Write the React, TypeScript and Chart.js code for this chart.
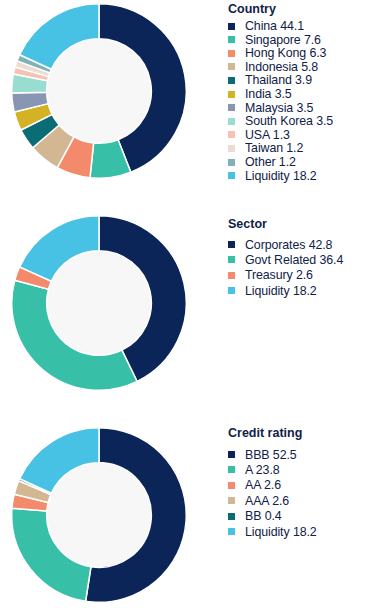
import React, { useEffect, useRef } from "react";
import { Chart, registerables } from "chart.js";

Chart.register(...registerables);

const countryLabels = ["China", "Singapore", "Hong Kong", "Indonesia", "Thailand", "India", "Malaysia", "South Korea", "USA", "Taiwan", "Other", "Liquidity"];
const countryValues = [44.1, 7.6, 6.3, 5.8, 3.9, 3.5, 3.5, 3.5, 1.3, 1.2, 1.2, 18.2];
const countryColors = ["#0b2559", "#38bfa7", "#f28a6b", "#d3b792", "#0b6c76", "#d3b223", "#8896b3", "#98ddd0", "#f7c1b6", "#eedcd0", "#7fb1b6", "#47c2e4"];

const sectorLabels = ["Corporates", "Govt Related", "Treasury", "Liquidity"];
const sectorValues = [42.8, 36.4, 2.6, 18.2];
const sectorColors = ["#0b2559", "#38bfa7", "#f28a6b", "#47c2e4"];

const ratingLabels = ["BBB", "A", "AA", "AAA", "BB", "Liquidity"];
const ratingValues = [52.5, 23.8, 2.6, 2.6, 0.4, 18.2];
const ratingColors = ["#0b2559", "#38bfa7", "#f28a6b", "#d3b792", "#0b6c76", "#47c2e4"];

const innerFill = {
  id: "innerFill",
  beforeDatasetsDraw(chart: any) {
    const meta = chart.getDatasetMeta(0);
    const arc: any = meta.data[0];
    if (!arc) return;
    const ctx = chart.ctx;
    ctx.save();
    ctx.beginPath();
    ctx.arc(arc.x, arc.y, arc.innerRadius, 0, Math.PI * 2);
    ctx.fillStyle = "#f7f7f7";
    ctx.fill();
    ctx.restore();
  },
};

function Donut({ labels, values, colors, left, top }: { labels: string[]; values: number[]; colors: string[]; left: number; top: number }) {
  const ref = useRef<HTMLCanvasElement>(null);
  useEffect(() => {
    if (!ref.current) return;
    const chart = new Chart(ref.current, {
      type: "doughnut",
      data: {
        labels,
        datasets: [
          {
            data: values,
            backgroundColor: colors,
            borderColor: "#ffffff",
            borderWidth: 1.5,
          },
        ],
      },
      options: {
        responsive: false,
        animation: false,
        cutout: "60%",
        layout: { padding: 0 },
        plugins: { legend: { display: false }, tooltip: { enabled: false } },
      },
      plugins: [innerFill],
    });
    return () => chart.destroy();
  }, []);
  return <canvas ref={ref} width={176} height={176} style={{ position: "absolute", left, top, width: 176, height: 176 }} />;
}

function Legend({ title, labels, values, colors, titleY, firstY, step }: { title: string; labels: string[]; values: number[]; colors: string[]; titleY: number; firstY: number; step: number }) {
  const textColor = "#0f2148";
  return (
    <>
      <div style={{ position: "absolute", left: 228, top: titleY - 7, height: 14, lineHeight: "14px", fontFamily: "'Liberation Sans', Arial, sans-serif", fontWeight: 700, fontSize: 12.5, color: textColor, whiteSpace: "nowrap" }}>{title}</div>
      {labels.map((l, i) => (
        <div key={l} style={{ position: "absolute", left: 228, top: firstY + i * step - 7, height: 14, display: "flex", alignItems: "center", whiteSpace: "nowrap" }}>
          <div style={{ width: 7, height: 7, background: colors[i], marginRight: 10 }} />
          <span style={{ lineHeight: "14px", fontFamily: "'Liberation Sans', Arial, sans-serif", fontSize: 12.4, letterSpacing: -0.1, color: textColor }}>
            {l} {values[i]}
          </span>
        </div>
      ))}
    </>
  );
}

export default function App() {
  return (
    <div style={{ position: "absolute", left: 0, top: 0, width: 391, height: 608, background: "#ffffff", overflow: "hidden" }}>
      <Donut labels={countryLabels} values={countryValues} colors={countryColors} left={11} top={3} />
      <Donut labels={sectorLabels} values={sectorValues} colors={sectorColors} left={11} top={215} />
      <Donut labels={ratingLabels} values={ratingValues} colors={ratingColors} left={11} top={427} />
      <Legend title="Country" labels={countryLabels} values={countryValues} colors={countryColors} titleY={9} firstY={26} step={13.6} />
      <Legend title="Sector" labels={sectorLabels} values={sectorValues} colors={sectorColors} titleY={224} firstY={244.5} step={15.35} />
      <Legend title="Credit rating" labels={ratingLabels} values={ratingValues} colors={ratingColors} titleY={433} firstY={454.5} step={15.4} />
    </div>
  );
}
